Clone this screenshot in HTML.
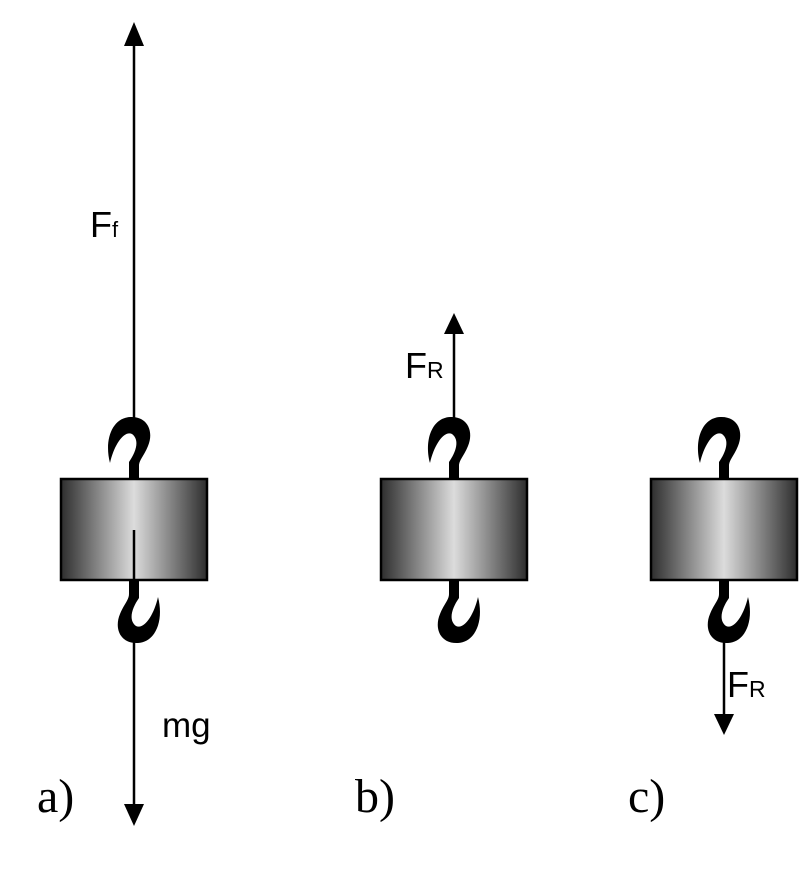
<!DOCTYPE html>
<html><head><style>body{margin:0;background:#fff}svg{display:block}</style></head>
<body>
<svg width="800" height="879" viewBox="0 0 800 879" xmlns="http://www.w3.org/2000/svg">
<defs>
<linearGradient id="g" x1="0" x2="1" y1="0" y2="0">
<stop offset="0" stop-color="#2e2e2e"/><stop offset="0.5" stop-color="#dcdcdc"/><stop offset="1" stop-color="#2e2e2e"/>
</linearGradient>
<g id="w">
<path d="M-5,480 L-5,462 C2,452 6,440 -2,434 C-10,430 -20,445 -24,463 C-30,440 -22,418 -4,417 C14,416 20,432 14,446 C10,456 5,460 5,466 L5,480 Z" fill="#000"/>
<rect x="-73" y="479" width="146" height="101" fill="url(#g)" stroke="#000" stroke-width="2.5"/>
<path d="M5,580 L5,598 C-2,608 -6,620 2,626 C10,630 20,615 24,597 C30,620 22,642 4,643 C-14,644 -20,628 -14,614 C-10,604 -5,600 -5,594 L-5,580 Z" fill="#000"/>
</g>
</defs>
<g stroke="#000" stroke-width="2.5">
<line x1="134" y1="40" x2="134" y2="420"/>
<line x1="134" y1="640" x2="134" y2="808"/>
<line x1="454" y1="330" x2="454" y2="420"/>
<line x1="724" y1="640" x2="724" y2="718"/>
</g>
<use href="#w" x="134"/>
<use href="#w" x="454"/>
<use href="#w" x="724"/>
<line x1="134" y1="530" x2="134" y2="580" stroke="#000" stroke-width="2.5"/>
<g fill="#000">
<path d="M134,22 L124,46 L144,46 Z"/>
<path d="M134,826 L124,804 L144,804 Z"/>
<path d="M454,313 L444,334 L464,334 Z"/>
<path d="M724,735 L714,714 L734,714 Z"/>
</g>
<g font-family="Liberation Sans, sans-serif" fill="#000">
<text x="90" y="237" font-size="36">F<tspan font-size="22">f</tspan></text>
<text x="405" y="378" font-size="36">F<tspan font-size="23">R</tspan></text>
<text x="727" y="697" font-size="36">F<tspan font-size="23">R</tspan></text>
<text x="162" y="737" font-size="35">mg</text>
</g>
<g font-family="Liberation Serif, serif" font-size="48" fill="#000">
<text x="37" y="812">a)</text>
<text x="355" y="812">b)</text>
<text x="628" y="812">c)</text>
</g>
</svg>
</body></html>
